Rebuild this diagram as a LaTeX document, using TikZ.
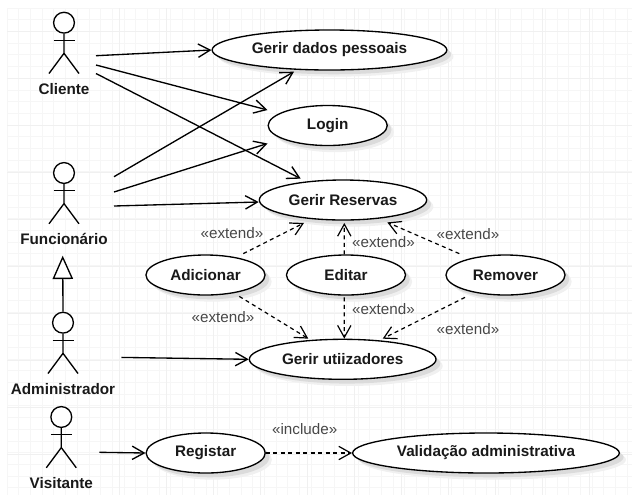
\documentclass[tikz,border=0pt]{standalone}
\usepackage{fontspec}
\setmainfont{Liberation Sans}
\usetikzlibrary{arrows.meta,shapes.geometric,shadows}

\tikzset{every picture/.style={line width=1pt}}
\tikzset{
  usecase/.style={ellipse,draw,fill=white,inner sep=0pt,minimum height=30pt,font=\fontsize{11.45}{13}\selectfont\bfseries,text=black!90,
    drop shadow={shadow xshift=5pt,shadow yshift=-5pt,fill=black!6,opacity=1},
    drop shadow={shadow xshift=3.2pt,shadow yshift=-3.2pt,fill=black!14,opacity=1}},
  actorhead/.style={circle,draw,fill=white,inner sep=0pt,minimum size=15.6pt},
  actorlabel/.style={inner sep=0.75pt,font=\fontsize{11.45}{13}\selectfont\bfseries,text=black!90},
  stereotype/.style={inner sep=0.75pt,font=\fontsize{11.4}{13}\selectfont,text=black!72},
  assoc/.style={-{Straight Barb[length=9pt,width=10pt]}},
  extendarrow/.style={dash pattern=on 3pt off 2.6pt,line width=0.9pt,-{Straight Barb[length=9pt,width=10pt]}},
  generaliza/.style={-{Triangle[open,length=17.5pt,width=15.3pt,fill=white]}},
  gridminor/.style={line width=0.6pt,black!3.5},
  gridmajor/.style={line width=0.7pt,black!6}
}

\begin{document}
\begin{tikzpicture}[x=0.75pt,y=0.75pt,yscale=-1,xscale=1]
  \useasboundingbox (0,0) rectangle (632,501);

  % grid
  \foreach \k in {0,...,53} {\draw[gridminor] ({7+11.7*\k},8) -- ({7+11.7*\k},495);}
  \foreach \k in {0,...,41} {\draw[gridminor] (7,{8+11.7*\k}) -- (632,{8+11.7*\k});}
  \foreach \k in {0,...,10} {\draw[gridmajor] ({119+47*\k},8) -- ({119+47*\k},495);}
  \foreach \k in {0,...,9} {\draw[gridmajor] (7,{31+47*\k}) -- (632,{31+47*\k});}

  % actors
  \foreach \actorname/\hx/\hy/\actortext in {cliente/64/22.7/Cliente,funcionario/64/173/Funcionário,administrador/63/322.7/Administrador,visitante/61.3/417/Visitante} {
    \node[actorhead] (\actorname head) at (\hx,\hy) {};
    \draw (\actorname head.south) -- (\hx,\hy+30.6) -- (\hx-15,\hy+50.8);
    \draw (\hx,\hy+30.6) -- (\hx+15,\hy+50.8);
    \draw (\hx-10.5,\hy+17.5) -- (\hx+10.5,\hy+17.5);
    \node[actorlabel] (\actorname) at (\hx,\hy+66) {\actortext};
  }

  % use cases
  \node[usecase,minimum width=176pt] (dados) at (329.5,50) {Gerir dados pessoais};
  \node[usecase,minimum width=89.3pt] (login) at (327.7,125.5) {Login};
  \node[usecase,minimum width=125.5pt] (reservas) at (343,200) {Gerir Reservas};
  \node[usecase,minimum width=89.3pt] (adicionar) at (205.5,275) {Adicionar};
  \node[usecase,minimum width=89.3pt] (editar) at (346,275) {Editar};
  \node[usecase,minimum width=89.3pt] (remover) at (505.5,275) {Remover};
  \node[usecase,minimum width=140pt] (utilizadores) at (342.7,359.3) {Gerir utiizadores};
  \node[usecase,minimum width=89.3pt] (registar) at (205.7,453) {Registar};
  \node[usecase,minimum width=200pt] (validacao) at (486,453) {Validação administrativa};

  % free ends of the actors' lines
  \coordinate (clienteA) at (96,55.7);
  \coordinate (clienteB) at (96,65);
  \coordinate (clienteC) at (96,73.5);
  \coordinate (funcionarioA) at (114,176.7);
  \coordinate (funcionarioB) at (114,192);
  \coordinate (funcionarioC) at (114,206);
  \coordinate (administradorA) at (121.5,357.4);
  \coordinate (visitanteA) at (99.4,452.3);
  \coordinate (topogeneral) at (62.7,255.7);

  \draw[assoc] (clienteA) -- (dados.west);
  \draw[assoc] (clienteB) -- ([shift={(0,-15.5)}]login.west);
  \draw[assoc] (clienteC) -- ([shift={(-42.3,-0.7)}]reservas.north);
  \draw[assoc] (funcionarioA) -- ([shift={(-35.5,1)}]dados.south);
  \draw[assoc] (funcionarioB) -- ([shift={(0,18)}]login.west);
  \draw[assoc] (funcionarioC) -- ([shift={(0,2)}]reservas.west);
  \draw[assoc] (administradorA) -- (utilizadores.west);
  \draw[assoc] (visitanteA) -- (registar.west);
  \draw[generaliza] (administradorhead.north) -- (topogeneral);

  % extend and include
  \draw[extendarrow] ([shift={(37.8,-0.7)}]adicionar.north) -- ([shift={(-39,2.3)}]reservas.south);
  \draw[extendarrow] ([shift={(-1.7,0)}]editar.north) -- ([shift={(1.3,2.3)}]reservas.south);
  \draw[extendarrow] ([shift={(-46.2,-0.7)}]remover.north) -- ([shift={(44.3,1.7)}]reservas.south);
  \draw[extendarrow] ([shift={(33.8,0.7)}]adicionar.south) -- ([shift={(-34.4,0)}]utilizadores.north);
  \draw[extendarrow] ([shift={(-1.7,1.7)}]editar.south) -- ([shift={(1.6,0)}]utilizadores.north);
  \draw[extendarrow] ([shift={(-40.5,1.7)}]remover.south) -- ([shift={(40,0)}]utilizadores.north);
  \draw[extendarrow] (registar.east) -- (validacao.west);

  \node[stereotype] (extendA) at (232,233.5) {«extend»};
  \node[stereotype] (extendB) at (383.5,241.7) {«extend»};
  \node[stereotype] (extendC) at (468,234.3) {«extend»};
  \node[stereotype] (extendD) at (223,316.7) {«extend»};
  \node[stereotype] (extendE) at (383.5,309) {«extend»};
  \node[stereotype] (extendF) at (468,329.3) {«extend»};
  \node[stereotype] (includeA) at (304.7,429.3) {«include»};
\end{tikzpicture}
\end{document}
